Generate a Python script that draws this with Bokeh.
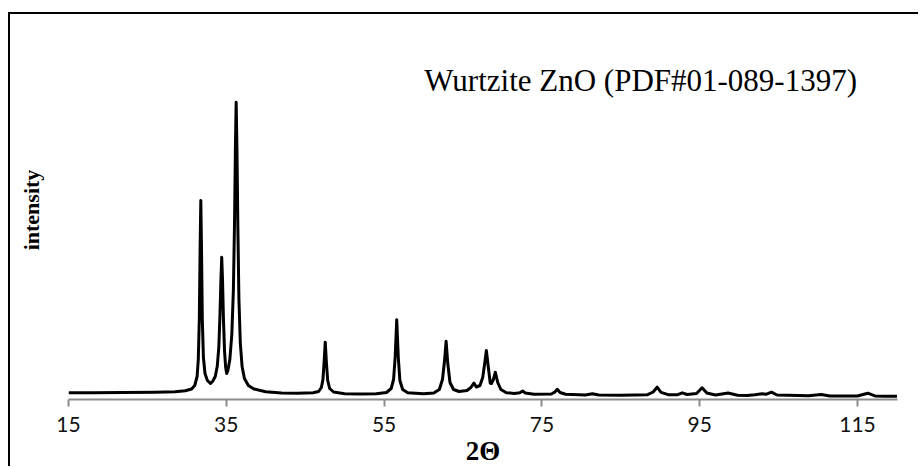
from bokeh.plotting import figure
from bokeh.models import Range1d, FixedTicker, Label
from bokeh.embed import file_html
from bokeh.resources import INLINE

# ---- data (2-theta in degrees, intensity in counts) ----
two_theta = [
    15.0, 18.0, 22.0, 26.0, 28.5, 29.8, 30.6, 31.0, 31.3, 31.45, 31.58, 31.68,
    31.77, 31.86, 31.96, 32.1, 32.3, 32.6, 33.0, 33.3, 33.6, 33.85, 34.05,
    34.2, 34.32, 34.42, 34.52, 34.64, 34.78, 34.92, 35.05, 35.2, 35.45, 35.7,
    35.9, 36.05, 36.15, 36.25, 36.35, 36.47, 36.6, 36.78, 37.0, 37.3, 37.8,
    38.5, 40.0, 42.0, 44.0, 46.0, 46.7, 47.05, 47.25, 47.4, 47.54, 47.68,
    47.85, 48.1, 48.6, 50.0, 52.0, 54.0, 55.3, 55.9, 56.2, 56.4, 56.6, 56.8,
    57.0, 57.35, 58.0, 60.0, 61.3, 62.0, 62.4, 62.65, 62.86, 63.07, 63.35,
    63.8, 64.5, 65.5, 66.0, 66.38, 66.7, 67.15, 67.5, 67.75, 67.96, 68.2,
    68.45, 68.6, 68.85, 69.1, 69.4, 69.8, 70.5, 71.5, 72.2, 72.56, 72.9, 74.0,
    76.2, 76.65, 76.95, 77.3, 78.0, 80.5, 81.4, 82.2, 85.0, 88.4, 89.1, 89.6,
    90.1, 91.0, 92.2, 92.8, 93.4, 94.6, 95.3, 95.9, 97.0, 98.6, 99.8, 101.0,
    102.0, 102.9, 103.4, 104.1, 104.8, 107.5, 108.8, 110.4, 111.5, 115.0,
    116.3, 117.2, 118.5, 120.0,
]
intensity = [
    68, 68, 70, 73, 78, 88, 105, 140, 230, 400, 800, 1500,
    1990, 1500, 800, 420, 260, 190, 160, 185, 230, 330, 520,
    850, 1200, 1423, 1200, 800, 480, 320, 260, 290, 400, 650,
    1100, 1800, 2500, 2973, 2500, 1700, 1000, 560, 330, 210, 140,
    105, 78, 65, 62, 68, 80, 120, 200, 380, 573, 380,
    190, 110, 75, 58, 54, 57, 70, 110, 200, 420, 797, 420,
    190, 100, 68, 57, 65, 100, 200, 380, 583, 360, 170,
    100, 80, 90, 120, 163, 125, 140, 220, 360, 490, 330,
    165, 160, 200, 273, 170, 100, 68, 60, 68, 85, 65, 52,
    55, 75, 102, 70, 52, 46, 58, 45, 42, 48, 75, 123,
    72, 48, 48, 67, 50, 60, 117, 65, 45, 65, 42, 40,
    48, 57, 52, 73, 45, 40, 38, 50, 35, 35,
    63, 36, 32, 32,
]

x_ticks = [15, 35, 55, 75, 95, 115]
x_tick_labels = ["15", "35", "55", "75", "95", "115"]
title_text = "Wurtzite ZnO (PDF#01-089-1397)"
x_title = "2Θ"
y_title = "intensity"

p = figure(
    width=910, height=454,
    x_range=Range1d(15, 120.07), y_range=Range1d(0, 3790),
    output_backend="svg", toolbar_location=None,
    min_border_left=58, min_border_right=23,
    min_border_top=6, min_border_bottom=69,
)
p.margin = (12, 0, 0, 8)
p.styles = {"border-left": "2px solid black", "border-top": "2px solid black"}
p.grid.visible = False
p.outline_line_color = None
p.background_fill_color = "white"
p.border_fill_color = "white"

p.line(two_theta, intensity, line_color="black", line_width=3, line_join="round")

# x axis
xa = p.xaxis[0]
xa.ticker = FixedTicker(ticks=x_ticks)
xa.major_label_overrides = {t: s for t, s in zip(x_ticks, x_tick_labels)}
xa.axis_line_color = "#8c8c8c"
xa.axis_line_width = 2
xa.major_tick_line_color = "#8c8c8c"
xa.major_tick_line_width = 2
xa.major_tick_in = 0
xa.major_tick_out = 7
xa.minor_tick_line_color = None
xa.major_label_text_font = "Lato"
xa.major_label_text_font_size = "21px"
xa.major_label_text_color = "#111111"
xa.major_label_standoff = 10
xa.axis_label = x_title
xa.axis_label_text_font = "Liberation Serif"
xa.axis_label_text_font_style = "bold"
xa.axis_label_text_font_size = "27px"
xa.axis_label_text_color = "black"
xa.axis_label_standoff = 1

# y axis: only the title
ya = p.yaxis[0]
ya.ticker = FixedTicker(ticks=[])
ya.axis_line_color = None
ya.major_tick_line_color = None
ya.minor_tick_line_color = None
ya.major_label_text_font_size = "0px"
ya.axis_label = y_title
ya.axis_label_text_font = "Liberation Serif"
ya.axis_label_text_font_style = "bold"
ya.axis_label_text_font_size = "22px"
ya.axis_label_text_color = "black"
ya.axis_label_standoff = 25

p.add_layout(Label(
    x=60.1, y=3190, text=title_text,
    text_font="Liberation Serif", text_font_size="31px",
    text_color="black", text_baseline="alphabetic", text_align="left",
))

open("out.html", "w").write(file_html(p, INLINE))
